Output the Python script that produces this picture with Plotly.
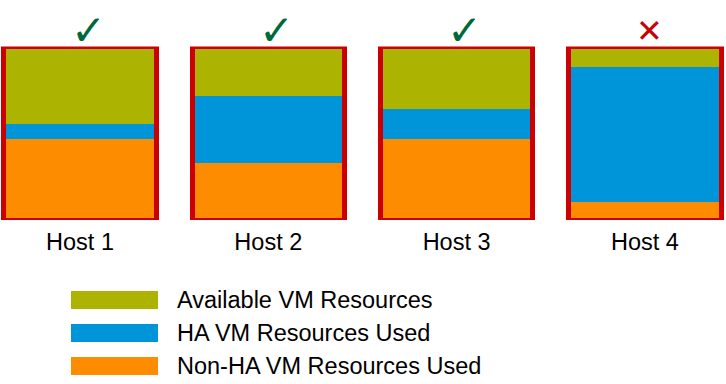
import plotly.graph_objects as go

hosts = ["Host 1", "Host 2", "Host 3", "Host 4"]
non_ha_used = [46.7, 32.9, 46.7, 10.4]
ha_used = [8.6, 38.6, 17.3, 77.8]
available = [44.7, 28.5, 36.0, 11.8]
status_ok = [True, True, True, False]

series_names = ["Available VM Resources", "HA VM Resources Used", "Non-HA VM Resources Used"]

C_GREEN = "#acb300"
C_BLUE = "#0094d8"
C_ORANGE = "#fd8c00"
C_RED = "#cc0000"
C_CHECK = "#00693a"
FONT = "Liberation Sans, Arial, sans-serif"

W, H = 726, 384
BAR_W = 0.81

totals = [a + b + c for a, b, c in zip(non_ha_used, ha_used, available)]

fig = go.Figure()
for name, vals, col in [(series_names[2], non_ha_used, C_ORANGE),
                        (series_names[1], ha_used, C_BLUE),
                        (series_names[0], available, C_GREEN)]:
    fig.add_trace(go.Bar(x=hosts, y=vals, name=name, width=BAR_W,
                         marker=dict(color=col, line=dict(width=0)),
                         showlegend=False, hoverinfo="skip"))

# red outline around each host
fig.add_trace(go.Bar(x=hosts, y=totals, width=BAR_W, xaxis="x2", yaxis="y",
                     marker=dict(color="rgba(0,0,0,0)", line=dict(color=C_RED, width=5)),
                     showlegend=False, hoverinfo="skip"))

# status marks
for h, t, ok in zip(hosts, totals, status_ok):
    fig.add_annotation(
        x=h, y=t, xref="x", yref="y", xshift=8 if ok else 5, yshift=16,
        text="✓" if ok else "✕", showarrow=False, yanchor="middle",
        font=dict(family="DejaVu Sans", size=42 if ok else 32,
                  color=C_CHECK if ok else C_RED))

# custom legend as a small horizontal bar chart
fig.add_trace(go.Bar(
    y=series_names, x=[1, 1, 1], orientation="h", xaxis="x3", yaxis="y3", width=0.55,
    marker=dict(color=[C_GREEN, C_BLUE, C_ORANGE], line=dict(width=0)),
    showlegend=False, hoverinfo="skip"))

x_range = [-80 / 188.3, -80 / 188.3 + W / 188.3]
fig.update_layout(
    width=W, height=H,
    margin=dict(l=0, r=0, t=0, b=0),
    paper_bgcolor="white", plot_bgcolor="rgba(0,0,0,0)",
    barmode="stack",
    font=dict(family=FONT, color="black"),
    xaxis=dict(domain=[0, 1], range=x_range, type="category",
               showgrid=False, zeroline=False, showline=False, ticks="",
               ticklabelstandoff=5,
               tickfont=dict(size=23.5, family=FONT, color="black")),
    xaxis2=dict(overlaying="x", range=x_range, type="category", visible=False, matches="x"),
    yaxis=dict(domain=[(H - 220) / H, (H - 46.5) / H], range=[0, 100], visible=False),
    xaxis3=dict(domain=[71 / W, 158 / W], range=[0, 1], visible=False, anchor="y3"),
    yaxis3=dict(domain=[(H - 381.9) / H, (H - 283.6) / H], anchor="x3", side="right",
                autorange="reversed", showgrid=False, zeroline=False, showline=False,
                ticks="", ticklabelstandoff=18,
                tickfont=dict(size=23.5, family=FONT, color="black")),
)

fig.write_html("out.html", config={"displayModeBar": False},
               post_script="document.body.style.margin='0';")
